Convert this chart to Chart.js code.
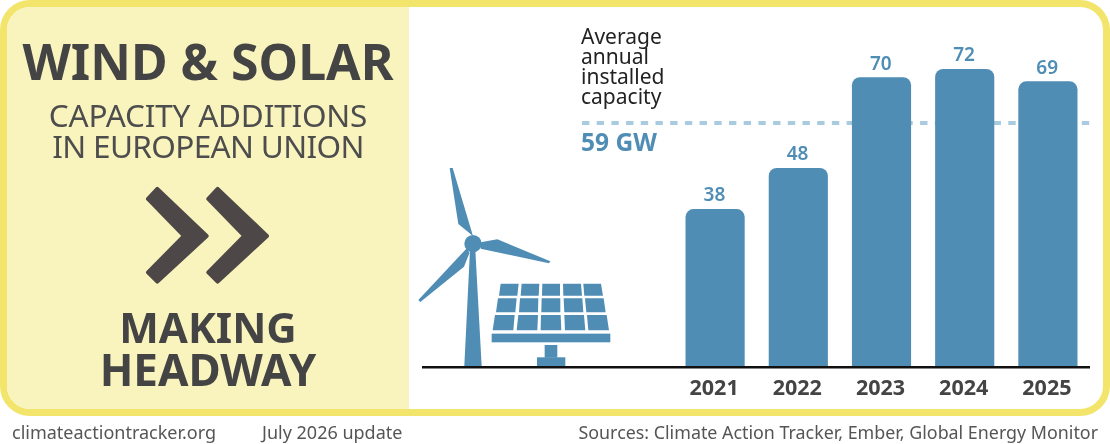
<!DOCTYPE html>
<html>
<head>
<meta charset="utf-8">
<script src="https://cdn.jsdelivr.net/npm/chart.js@4"></script>
<style>
  html, body { margin: 0; padding: 0; background: #fff; }
  body { width: 1110px; height: 444px; position: relative; overflow: hidden; font-family: "Noto Sans", sans-serif; }
  #frame { position: absolute; left: 0; top: 0; width: 1096px; height: 402px; border: 7px solid #f3e56b; border-radius: 30px; overflow: hidden; }
  #panel { position: absolute; left: 0; top: 0; width: 402px; height: 402px; background: #f9f3bd; }
  #chart { position: absolute; left: 0; top: 0; }
  #art { position: absolute; left: 0; top: 0; }
  .t { position: absolute; white-space: nowrap; }
  .c { left: 0; width: 416px; text-align: center; }
  .head { font-weight: 700; color: #444; }
  .sub { color: #4d4d4d; font-size: 31.5px; line-height: 31px; letter-spacing: -0.2px; }
  .foot { color: #555; font-size: 18px; top: 421px; line-height: 22px; }
</style>
</head>
<body>
<div id="frame"><div id="panel"></div></div>
<canvas id="chart" width="1110" height="444"></canvas>

<svg id="art" width="1110" height="444" viewBox="0 0 1110 444">
  <!-- double chevron -->
  <g transform="scale(0.3333)" fill="#4d4847" stroke="#4d4847" stroke-width="12" stroke-linejoin="round">
    <polygon points="472,567 620,708 472,845 444,817 552,708 444,597" />
    <polygon points="653,567 801,708 653,845 625,817 733,708 625,597" />
  </g>
  <!-- turbine + solar panel -->
  <g transform="translate(410 150) scale(0.3333)" fill="#4f8db5">
    <polygon points="163,648 180,300 196,300 215,648" />
    <circle cx="189" cy="281" r="26" />
    <polygon points="119,54 128,54 189,258 145,222" />
    <polygon points="212,277 262,268 421,334 417,340 212,296" />
    <polygon points="172,293 178,310 162,350 31,456 25,450" />
    <polygon points="272,401 326,401 322,437 267,437" />
    <polygon points="335,401 388,401 386,437 332,437" />
    <polygon points="397,401 450,401 450,437 396,437" />
    <polygon points="459,401 513,401 516,437 460,437" />
    <polygon points="520,401 573,401 579,437 523,437" />
    <polygon points="264,445 320,445 316,487 258,487" />
    <polygon points="330,445 385,445 384,487 327,487" />
    <polygon points="395,445 451,445 451,487 394,487" />
    <polygon points="461,445 517,445 520,487 463,487" />
    <polygon points="525,445 581,445 587,487 529,487" />
    <polygon points="255,495 314,495 310,541 248,541" />
    <polygon points="325,495 384,495 382,541 320,541" />
    <polygon points="393,495 452,495 454,541 392,541" />
    <polygon points="463,495 522,495 526,541 465,541" />
    <polygon points="531,495 590,495 597,541 535,541" />
    <rect x="245" y="551" width="356" height="26" />
    <rect x="404" y="585" width="38" height="38" />
    <rect x="381" y="622" width="85" height="26" />
  </g>
</svg>

<div class="t c head" style="top:27px;font-size:50px;line-height:68px;">WIND &amp; SOLAR</div>
<div class="t c sub" style="top:99px;">CAPACITY ADDITIONS<br><span style="letter-spacing:-0.65px;">IN EUROPEAN UNION</span></div>
<div class="t c head" style="top:305px;font-size:44px;line-height:42px;"><span style="font-size:42px;">MAKING</span><br>HEADWAY</div>

<div class="t" style="left:581px;top:26px;font-size:21px;line-height:20px;color:#222;">Average<br>annual<br>installed<br>capacity</div>
<div class="t" style="left:581px;top:125px;font-size:24.5px;line-height:34px;font-weight:700;color:#4f8db5;">59 GW</div>

<div class="t foot" style="left:12px;">climateactiontracker.org</div>
<div class="t foot" style="left:262px;">July 2026 update</div>
<div class="t foot" style="right:12px;font-size:17.85px;">Sources: Climate Action Tracker, Ember, Global Energy Monitor</div>

<script>
const years = ["2021", "2022", "2023", "2024", "2025"];
const additions = [38, 48, 70, 72, 69];
const averageGW = 59;

const barBlue = "#4f8db5";

// baseline, dashed average and the value labels
const decorations = {
  id: "decorations",
  beforeDatasetsDraw(chart) {
    const { ctx, scales } = chart;
    const y = scales.y.getPixelForValue(averageGW);
    ctx.save();
    ctx.strokeStyle = "#a9cbdf";
    ctx.lineWidth = 4;
    ctx.setLineDash([7.35, 7.35]);
    ctx.beginPath();
    ctx.moveTo(582, y);
    ctx.lineTo(1090, y);
    ctx.stroke();
    ctx.restore();
  },
  afterDatasetsDraw(chart) {
    const { ctx, scales } = chart;
    const y0 = scales.y.getPixelForValue(0);
    ctx.save();
    ctx.fillStyle = "#111";
    ctx.fillRect(422, y0, 668, 2.5);

    ctx.fillStyle = barBlue;
    ctx.font = '600 19px "Noto Sans"';
    ctx.textAlign = "center";
    ctx.textBaseline = "alphabetic";
    chart.getDatasetMeta(0).data.forEach((bar, i) => {
      ctx.fillText(additions[i], bar.x - 0.7, bar.y - 8);
    });
    ctx.restore();
  }
};

new Chart(document.getElementById("chart"), {
  type: "bar",
  data: {
    labels: years,
    datasets: [{
      data: additions,
      backgroundColor: barBlue,
      barThickness: 58.5,
      borderRadius: 8
    }]
  },
  options: {
    responsive: false,
    animation: false,
    layout: { padding: { left: 673.5, right: 20.5, top: 40.5, bottom: 0 } },
    plugins: { legend: { display: false }, tooltip: { enabled: false } },
    scales: {
      x: {
        afterFit(scale) { scale.height = 78; },
        grid: { display: false, drawTicks: false },
        border: { display: false },
        ticks: {
          color: "#444",
          padding: 10,
          labelOffset: -1,
          maxRotation: 0,
          font: { family: '"Noto Sans"', size: 21.5, weight: "700" }
        }
      },
      y: { display: false, min: 0, max: 79 }
    }
  },
  plugins: [decorations]
});
</script>
</body>
</html>
